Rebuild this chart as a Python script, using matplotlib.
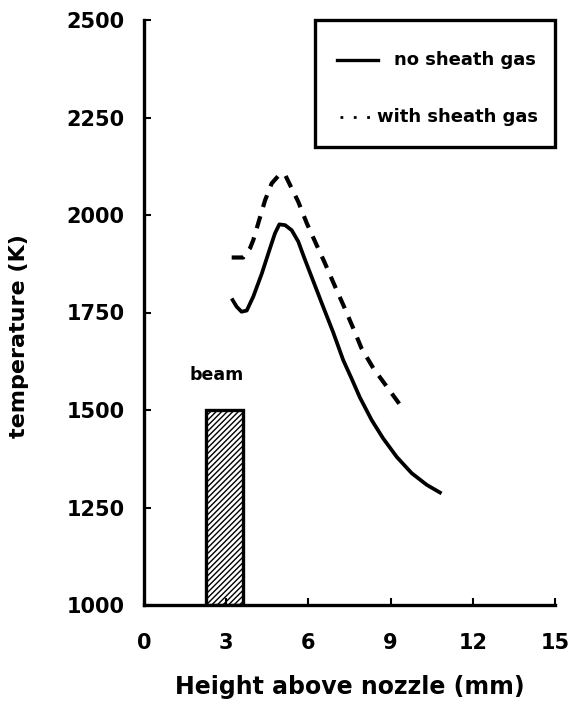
import matplotlib
matplotlib.use("Agg")
import matplotlib.pyplot as plt
from matplotlib.patches import Rectangle

# Temperature profiles along the flame axis
height_no_sheath = [3.2, 3.38, 3.56, 3.75, 3.99, 4.30, 4.60, 4.78, 4.94, 5.15, 5.39,
                    5.63, 5.85, 6.18, 6.52, 6.90, 7.27, 7.58, 7.88, 8.31, 8.73,
                    9.22, 9.77, 10.32, 10.86]
temp_no_sheath = [1786, 1765, 1752, 1755, 1791, 1850, 1915, 1953, 1976, 1974, 1961,
                  1932, 1890, 1830, 1768, 1700, 1628, 1580, 1532, 1474, 1427,
                  1380, 1338, 1308, 1286]

height_sheath = [3.2, 3.62, 3.87, 3.99, 4.17, 4.42, 4.66, 4.96, 5.15, 5.33, 5.63,
                 5.94, 6.30, 6.58, 6.94, 7.30, 7.64, 7.94, 8.37, 8.86, 9.40]
temp_sheath = [1891, 1891, 1915, 1936, 1979, 2038, 2081, 2105, 2103, 2077, 2034,
               1979, 1923, 1880, 1822, 1765, 1709, 1658, 1607, 1560, 1508]

# Laser beam position
beam_start = 2.25
beam_end = 3.6
beam_temp = 1500
beam_label = "beam"

x_ticks = [0, 3, 6, 9, 12, 15]
y_ticks = [1000, 1250, 1500, 1750, 2000, 2250, 2500]

plt.rcParams['font.family'] = ['DejaVu Sans']
plt.rcParams['font.weight'] = 'bold'
plt.rcParams['hatch.linewidth'] = 1.0

fig = plt.figure(figsize=(5.76, 7.03), dpi=100)
ax = fig.add_axes([144 / 576, 1 - 605 / 703, 411 / 576, 585 / 703])

ax.plot(height_no_sheath, temp_no_sheath, color='black', lw=2.7,
        solid_capstyle='butt', solid_joinstyle='round')
ax.plot(height_sheath, temp_sheath, color='black', lw=3.0,
        dashes=(3.0, 2.3), dash_capstyle='butt', dash_joinstyle='round')

ax.add_patch(Rectangle((beam_start, 1000), beam_end - beam_start, beam_temp - 1000,
                       facecolor='white', edgecolor='black', lw=2.4, hatch='//////'))
ax.text(2.65, beam_temp + 90, beam_label, ha='center',
        va='center', fontsize=12.5, fontweight='bold')

ax.set_xlim(0, 15)
ax.set_ylim(1000, 2500)
ax.set_xticks(x_ticks)
ax.set_yticks(y_ticks)
ax.tick_params(direction='in', length=5, width=1.5, labelsize=15)
ax.tick_params(axis='x', pad=20)
ax.tick_params(axis='y', pad=14)
for lab in ax.get_xticklabels() + ax.get_yticklabels():
    lab.set_fontweight('bold')
for side in ['top', 'right']:
    ax.spines[side].set_visible(False)
for side in ['left', 'bottom']:
    ax.spines[side].set_linewidth(2.4)

ax.set_xlabel("Height above nozzle (mm)", fontsize=17, fontweight='bold', labelpad=16)
ax.set_ylabel("temperature (K)", fontsize=16, fontweight='bold')
ax.yaxis.set_label_coords(-0.28, 0.46)

# Legend box
lx0, lx1 = (315 - 144) / 411, 1.0
ly0, ly1 = (605 - 147) / 585, 1.0
ax.add_patch(Rectangle((lx0, ly0), lx1 - lx0, ly1 - ly0, transform=ax.transAxes,
                       facecolor='white', edgecolor='black', lw=2.4, clip_on=False,
                       zorder=5))
y_a = (605 - 60) / 585
y_b = (605 - 117) / 585
ax.plot([(337 - 144) / 411, (378 - 144) / 411], [y_a, y_a], transform=ax.transAxes,
        color='black', lw=2.4, clip_on=False, zorder=6)
ax.plot([(340 - 144) / 411, (371 - 144) / 411], [y_b, y_b], transform=ax.transAxes,
        color='black', lw=2.0, dashes=(1.0, 3.8), clip_on=False, zorder=6)
ax.text((394 - 144) / 411, y_a, "no sheath gas", transform=ax.transAxes,
        fontsize=13, fontweight='bold', va='center', ha='left', zorder=6)
ax.text((377 - 144) / 411, y_b, "with sheath gas", transform=ax.transAxes,
        fontsize=13, fontweight='bold', va='center', ha='left', zorder=6)

fig.savefig("out.png", dpi=100)
